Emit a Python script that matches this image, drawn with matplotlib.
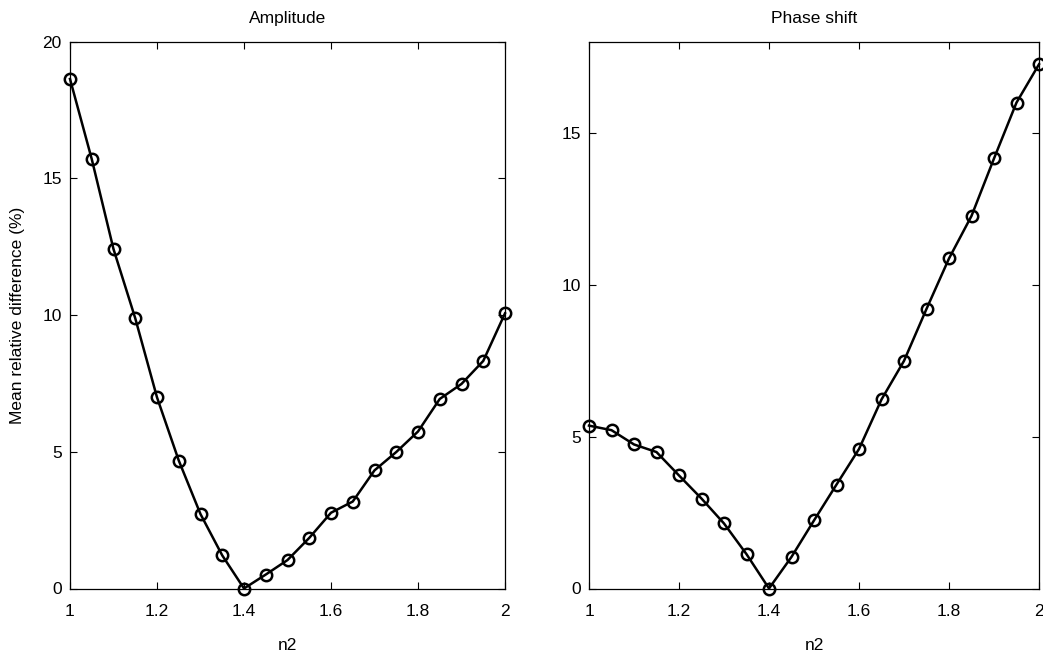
import matplotlib
matplotlib.use("Agg")
import matplotlib.pyplot as plt

n2 = [1.00, 1.05, 1.10, 1.15, 1.20, 1.25, 1.30, 1.35, 1.40, 1.45, 1.50,
      1.55, 1.60, 1.65, 1.70, 1.75, 1.80, 1.85, 1.90, 1.95, 2.00]

amplitude = [18.63, 15.70, 12.41, 9.88, 6.99, 4.68, 2.72, 1.21, 0.0, 0.51, 1.04,
             1.85, 2.77, 3.18, 4.32, 4.99, 5.74, 6.93, 7.48, 8.32, 10.06]

phase = [5.36, 5.21, 4.74, 4.49, 3.72, 2.96, 2.14, 1.13, 0.0, 1.04, 2.24,
         3.42, 4.59, 6.22, 7.49, 9.20, 10.86, 12.26, 14.15, 15.99, 17.25]

xticks = [1, 1.2, 1.4, 1.6, 1.8, 2]
xticklabels = ["1", "1.2", "1.4", "1.6", "1.8", "2"]

plt.rcParams['font.family'] = ['Liberation Sans', 'DejaVu Sans']
FS = 12.5

W, H = 1043, 655
fig = plt.figure(figsize=(W / 100, H / 100), dpi=100)

ax1 = fig.add_axes([70 / W, 1 - 588.5 / H, 435 / W, 547 / H])
ax2 = fig.add_axes([589 / W, 1 - 588.5 / H, 450 / W, 547 / H])

panels = [
    (ax1, amplitude, "Amplitude", (0, 20), [0, 5, 10, 15, 20]),
    (ax2, phase, "Phase shift", (0, 18), [0, 5, 10, 15]),
]

for ax, vals, title, ylim, yticks in panels:
    ax.plot(n2, vals, color="black", linewidth=1.8, marker="o",
            markersize=8.2, markerfacecolor="none", markeredgecolor="black",
            markeredgewidth=1.8, clip_on=False, zorder=3)
    ax.set_xlim(1, 2)
    ax.set_ylim(*ylim)
    ax.set_xticks(xticks)
    ax.set_xticklabels(xticklabels)
    ax.set_yticks(yticks)
    ax.tick_params(direction="in", length=5, width=0.8, top=True, right=True,
                   labelsize=FS)
    ax.tick_params(axis="x", pad=11)
    ax.tick_params(axis="y", pad=6)
    for s in ax.spines.values():
        s.set_linewidth(0.9)
    ax.set_title(title, fontsize=FS, pad=13)
    ax.set_xlabel("n2", fontsize=FS, labelpad=14)

ax1.set_ylabel("Mean relative difference (%)", fontsize=FS, labelpad=12)

fig.savefig("out.png", dpi=100)
